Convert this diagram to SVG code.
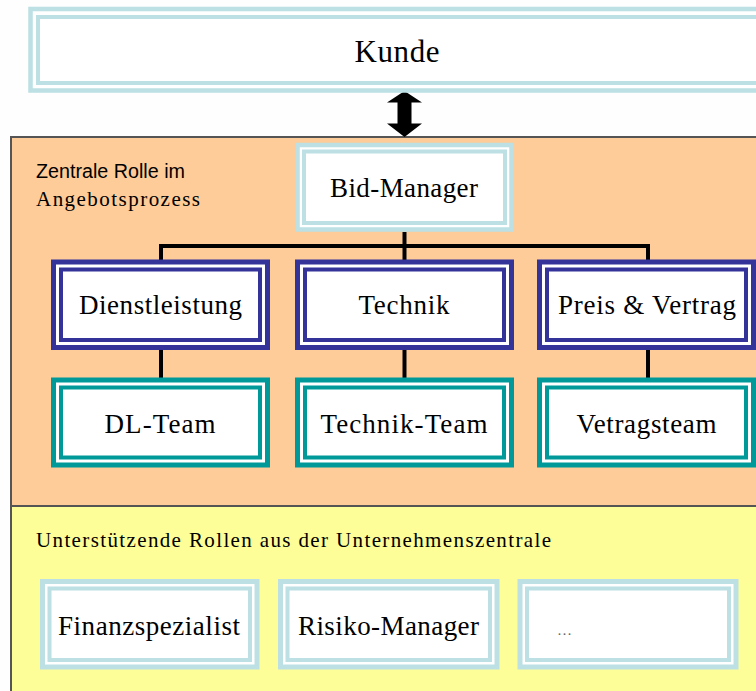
<svg xmlns="http://www.w3.org/2000/svg" width="756" height="691" viewBox="0 0 756 691">
<style>
.lb{stroke:#BCE0E4;fill:#fff}
.lbi{stroke:#BCE0E4;fill:none}
.db{stroke:#333399;fill:#fff}
.dbi{stroke:#333399;fill:none}
.tl{stroke:#009999;fill:#fff}
.tli{stroke:#009999;fill:none}
.t{font-family:"Liberation Serif","Times New Roman",serif;fill:#000;text-anchor:middle}
.conn{stroke:#000;stroke-width:4;fill:none}
</style>
<rect width="756" height="691" fill="#fefefe"/>
<g id="panel-zentral">
<rect x="11" y="137" width="760" height="369" fill="#FECC98" stroke="#555" stroke-width="2"/>
<text x="36" y="178" font-family="Liberation Sans, Arial, sans-serif" font-size="20" textLength="149" lengthAdjust="spacingAndGlyphs" fill="#000">Zentrale Rolle im</text>
<text x="36" y="206" font-family="Liberation Serif, Times New Roman, serif" font-size="21" textLength="164" lengthAdjust="spacing" fill="#000">Angebotsprozess</text>
</g>
<g id="panel-unterstuetzend">
<rect x="11" y="506" width="760" height="200" fill="#FEFE98" stroke="#555" stroke-width="2"/>
<text x="36" y="547" font-family="Liberation Serif, Times New Roman, serif" font-size="21" textLength="515" lengthAdjust="spacing" fill="#000">Unterstützende Rollen aus der Unternehmenszentrale</text>
</g>
<g id="connectors">
<polygon points="404.5,91 422,102.5 411.5,102.5 411.5,123.5 422,123.5 404.5,137 387,123.5 397.5,123.5 397.5,102.5 387,102.5" fill="#000"/>
<path class="conn" d="M404.5,232 V246 M159,246 H650 M161,246 V260 M404.5,246 V260 M648,246 V260 M161,350 V378 M404.5,350 V378 M648,350 V378"/>
</g>
<g id="kunde">
<rect class="lb" x="30.5" y="9" width="760" height="81.5" stroke-width="4.5"/>
<rect class="lbi" x="38" y="17" width="760" height="66" stroke-width="4"/>
<text class="t" x="397" y="62" font-size="31" textLength="85" lengthAdjust="spacing">Kunde</text>
</g>
<g id="bid-manager">
<rect class="lb" x="297.5" y="145" width="214" height="84.5" stroke-width="4.5"/>
<rect class="lbi" x="304" y="151.5" width="201" height="71.5" stroke-width="4"/>
<text class="t" x="404" y="197" font-size="27" textLength="148" lengthAdjust="spacing">Bid-Manager</text>
</g>
<g id="dienstleistung">
<rect class="db" x="53.5" y="262" width="214" height="85.5" stroke-width="5"/>
<rect class="dbi" x="61" y="269.5" width="199" height="70.5" stroke-width="4"/>
<text class="t" x="160.5" y="314" font-size="27" textLength="163" lengthAdjust="spacing">Dienstleistung</text>
</g>
<g id="technik">
<rect class="db" x="297.5" y="262" width="214" height="85.5" stroke-width="5"/>
<rect class="dbi" x="305" y="269.5" width="199" height="70.5" stroke-width="4"/>
<text class="t" x="404" y="314" font-size="27" textLength="91" lengthAdjust="spacing">Technik</text>
</g>
<g id="preis-vertrag">
<rect class="db" x="539.5" y="262" width="214" height="85.5" stroke-width="5"/>
<rect class="dbi" x="547" y="269.5" width="199" height="70.5" stroke-width="4"/>
<text class="t" x="647" y="314" font-size="27" textLength="178" lengthAdjust="spacing">Preis &amp; Vertrag</text>
</g>
<g id="dl-team">
<rect class="tl" x="53.5" y="380" width="214" height="85" stroke-width="5"/>
<rect class="tli" x="61" y="387.5" width="199" height="70" stroke-width="4"/>
<text class="t" x="160" y="433" font-size="27" textLength="111" lengthAdjust="spacing">DL-Team</text>
</g>
<g id="technik-team">
<rect class="tl" x="297.5" y="380" width="214" height="85" stroke-width="5"/>
<rect class="tli" x="305" y="387.5" width="199" height="70" stroke-width="4"/>
<text class="t" x="404" y="433" font-size="27" textLength="167" lengthAdjust="spacing">Technik-Team</text>
</g>
<g id="vertragsteam">
<rect class="tl" x="539.5" y="380" width="214" height="85" stroke-width="5"/>
<rect class="tli" x="547" y="387.5" width="199" height="70" stroke-width="4"/>
<text class="t" x="646.5" y="433" font-size="27" textLength="140" lengthAdjust="spacing">Vetragsteam</text>
</g>
<g id="finanzspezialist">
<rect class="lb" x="42.5" y="581.5" width="214.5" height="85.5" stroke-width="5"/>
<rect class="lbi" x="49.5" y="588.5" width="200.5" height="71.5" stroke-width="4"/>
<text class="t" x="149" y="635" font-size="27" textLength="182" lengthAdjust="spacing">Finanzspezialist</text>
</g>
<g id="risiko-manager">
<rect class="lb" x="280.5" y="581.5" width="216.5" height="85.5" stroke-width="5"/>
<rect class="lbi" x="287.5" y="588.5" width="202.5" height="71.5" stroke-width="4"/>
<text class="t" x="388.5" y="635" font-size="27" textLength="181" lengthAdjust="spacing">Risiko-Manager</text>
</g>
<g id="weitere">
<rect class="lb" x="520" y="581.5" width="216" height="85.5" stroke-width="5"/>
<rect class="lbi" x="527" y="588.5" width="202" height="71.5" stroke-width="4"/>
<text x="557" y="635" font-family="Liberation Serif, Times New Roman, serif" font-size="15" fill="#666">…</text>
</g>
</svg>
